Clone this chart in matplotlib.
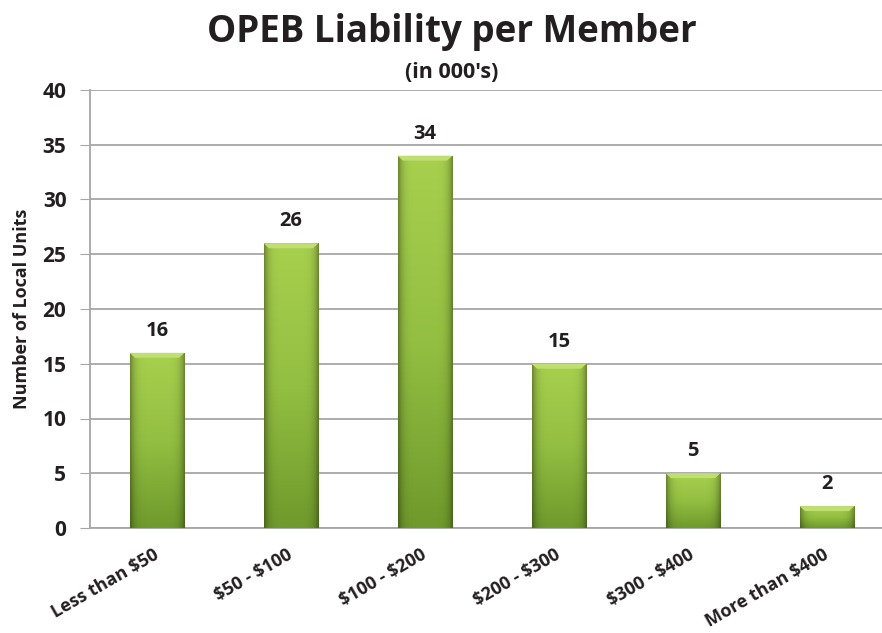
import matplotlib
matplotlib.use('Agg')
import matplotlib.pyplot as plt
import numpy as np

# data
categories = ['Less than $50', '$50 - $100', '$100 - $200', '$200 - $300', '$300 - $400', 'More than $400']
units = [16, 26, 34, 15, 5, 2]

plt.rcParams['font.family'] = ['Open Sans', 'DejaVu Sans']
txt = '#231f20'
W = 'bold'

fig = plt.figure(figsize=(8.82, 6.33), dpi=100)
ax = fig.add_axes([90/882, 105/633, 804/882, 438/633])

x = np.arange(len(categories))
bars = ax.bar(x, units, 0.41, color='#8ab83c', zorder=2)

# vertical gradient on each bar, light green on top, darker at the bottom
grad = np.linspace(0, 1, 256).reshape(-1, 1)
cmap = matplotlib.colors.LinearSegmentedColormap.from_list('g', ['#a8d04e', '#93bf42', '#6f9a2c'])
# darker edges left/right
side = np.abs(np.linspace(-1, 1, 64)) ** 6
for b in bars:
    x0, y0, w, h = b.get_x(), b.get_y(), b.get_width(), b.get_height()
    im = ax.imshow(grad, cmap=cmap, aspect='auto', extent=[x0, x0 + w, y0, y0 + h],
                   origin='upper', zorder=3)
    im.set_clip_path(b)
    shade = np.zeros((1, 64, 4))
    shade[..., 3] = side * 0.35
    sh = ax.imshow(shade, aspect='auto', extent=[x0, x0 + w, y0, y0 + h], zorder=3.5)
    sh.set_clip_path(b)
    # bevel at the top
    ax.fill([x0, x0 + w, x0 + w * 0.9, x0 + w * 0.1], [h, h, h - 0.45, h - 0.45],
            color='#bfe070', zorder=4, lw=0)
    ax.text(x0 + w / 2, h + 1.1, str(h), ha='center', va='bottom',
            fontsize=14.5, fontweight=W, color=txt)

ax.set_xlim(-0.5, len(categories) - 0.5)
ax.set_ylim(0, 40)
ax.set_yticks(range(0, 41, 5))
ax.yaxis.grid(True, color='#a6a6a6', lw=1.3, zorder=0)
ax.set_axisbelow(True)
for s in ['top', 'right']:
    ax.spines[s].set_visible(False)
ax.spines['left'].set_color('#a6a6a6')
ax.spines['bottom'].set_color('#a6a6a6')
ax.spines['left'].set_linewidth(1.3)
ax.spines['bottom'].set_linewidth(1.3)
ax.tick_params(axis='y', length=7, color='#a6a6a6', labelsize=15, labelcolor=txt, pad=10)
ax.tick_params(axis='x', length=0, labelsize=13, labelcolor=txt, pad=18)
for lab in ax.get_yticklabels():
    lab.set_fontweight(W)

ax.set_xticks(x)
ax.set_xticklabels([c.replace('$', r'\$') for c in categories], rotation=30, ha='right',
                   va='center', rotation_mode='anchor', fontweight=W)
ax.set_ylabel('Number of Local Units', fontsize=13, fontweight=W, color=txt, labelpad=8)

fig.text(452/882, 1 - 32/633, 'OPEB Liability per Member', ha='center', va='center',
         fontsize=26.5, fontweight=W, color=txt)
fig.text(452/882, 1 - 72/633, "(in 000's)", ha='center', va='center',
         fontsize=15.5, fontweight=W, color=txt)

fig.savefig('out.png', dpi=100)
